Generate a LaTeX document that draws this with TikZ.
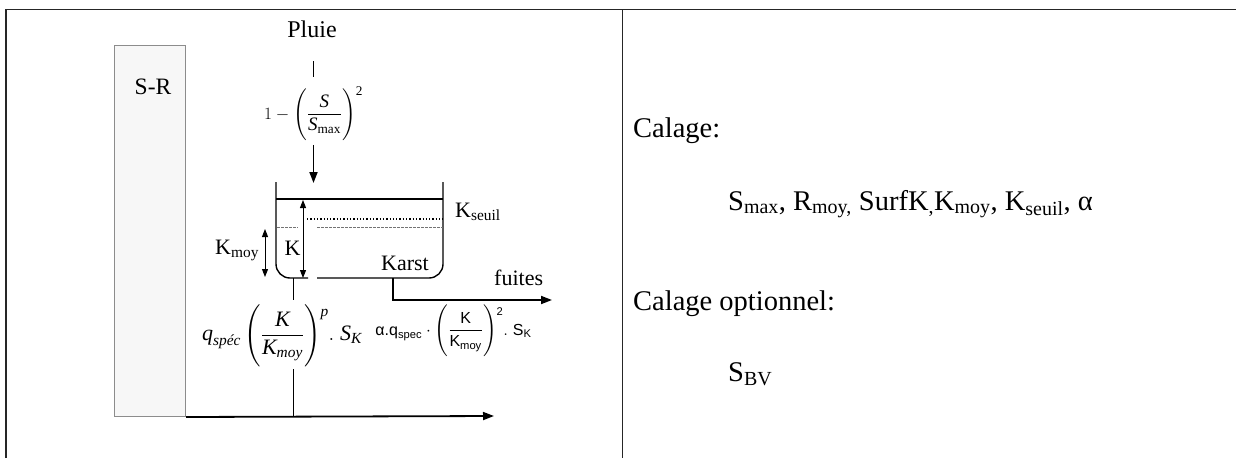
\documentclass[tikz,border=0pt]{standalone}
\usepackage{amsmath}
\usepackage{fontspec}
\setmainfont{Liberation Serif}
\setsansfont{Liberation Sans}
\usetikzlibrary{arrows.meta}

% italic / sans letters inside formulas
\newcommand{\itx}[1]{\text{\itshape #1}}
\newcommand{\sfx}[1]{\text{\sffamily #1}}
% invisible strut centred on the math axis, sets the size of \left( \right)
\newcommand{\parstrut}[1]{\vcenter{\hbox{\rule{0pt}{#1}}}}

\begin{document}
\begin{tikzpicture}[x=1pt,y=-1pt,
  grid/.style={line width=1.2pt, black!85},
  wall/.style={line width=1.4pt},
  flow/.style={line width=1.8pt},
  arr/.style={flow, -{Triangle[length=11pt,width=8pt]}},
  dbl/.style={line width=1pt, {Triangle[length=8pt,width=6pt]}-{Triangle[length=8pt,width=6pt]}},
  lab/.style={font=\fontsize{22}{26}\selectfont, inner sep=0pt},
  rtxt/.style={font=\fontsize{28.5}{34}\selectfont, inner sep=0pt, anchor=base west}]

\useasboundingbox (0,0) rectangle (1236,458);

% table frame
\draw[grid] (6,458) -- (6,9.5) -- (1236,9.5);
\draw[grid] (622.5,9.5) -- (622.5,458);

% surface reservoir S-R
\node[draw=black!45, fill=black!3, line width=1pt, minimum width=71pt,
      minimum height=371pt, inner sep=0pt, anchor=north west] (SR) at (114,45) {};
\node[lab, font=\fontsize{23.5}{27}\selectfont, anchor=base] (srlab) at (153,94) {S-R};

% rain input
\node[lab, font=\fontsize{24}{28}\selectfont, anchor=base] (pluie) at (312,37) {Pluie};
\node[inner sep=0pt, anchor=base, font=\fontsize{19}{23}\selectfont] (f1) at (313.5,119)
  {$\displaystyle 1-\left(\parstrut{56pt}\frac{\itx{S}}{\itx{S}_{\mathrm{max}}}\right)^{\text{\raisebox{-3pt}{2}}}$};
\coordinate (rin) at (313.5,183);
\draw[flow] ([xshift=1.5pt,yshift=-24pt]pluie.south) -- ([xshift=1.5pt,yshift=-40pt]pluie.south);
\draw[arr, shorten <=2pt] (f1.south) -- (rin);

% karst reservoir
\draw[wall, rounded corners=14pt] (276,182) |- (308,278);
\draw[wall, rounded corners=14pt] (317,278) -| (443,182);
\draw[wall] (276,199) -- (443,199);
\draw[line width=1.3pt, dotted] (307,219) -- (443,219);
\draw[line width=0.8pt, black!55, dash pattern=on 3pt off 1pt] (277,227) -- (298,227);
\draw[line width=0.8pt, black!55, dash pattern=on 3pt off 1pt] (317,227) -- (443,227);

\node[lab, anchor=base west] (kseuil) at (455,217) {K\textsubscript{seuil}};
\node[lab, anchor=base west] (karst) at (381,270) {Karst};
\node[lab, anchor=base] (klab) at (292.5,255) {K};
\node[lab, anchor=base west] (kmoy) at (215,254) {K\textsubscript{moy}};

\coordinate (ktop) at (303,200);
\coordinate (kbot) at (303,278);
\draw[dbl] (ktop) -- (kbot);
\coordinate (mtop) at (265,229);
\coordinate (mbot) at (265,277);
\draw[dbl] (mtop) -- (mbot);

% spring outflow
\coordinate (o1) at (293.5,278);
\coordinate (o2) at (293.5,300);
\coordinate (o3) at (293.5,369);
\coordinate (ob) at (293.5,416);
\draw[flow] (o1) -- (o2);
\draw[flow] (o3) -- (ob);
\node[inner sep=0pt, anchor=base, font=\fontsize{22}{26}\selectfont] (f2) at (282,340.5)
  {$\displaystyle \itx{q}_{\itx{spéc}}\left(\parstrut{64pt}\frac{\itx{K}}{\itx{K}_{\itx{moy}}}\right)^{\text{\itshape\raisebox{-8pt}{p}}}\!.\;\itx{S}_{\itx{K}}$};

% leakage
\coordinate (lk) at (393,278);
\coordinate (lkend) at (552,300);
\draw[arr] (lk) |- (lkend);
\node[lab, anchor=base west] (fuites) at (494,285) {fuites};
\node[inner sep=0pt, anchor=base, font=\fontsize{16}{19}\selectfont] (f3) at (453.5,335)
  {$\displaystyle \sfx{α.q}_{\sfx{spec}}\cdot\left(\parstrut{48pt}\frac{\sfx{K}}{\sfx{K}_{\sfx{moy}}}\right)^{\text{\sffamily\raisebox{-7pt}{2}}}\!.\;\sfx{S}_{\sfx{K}}$};

% total discharge
\coordinate (outlet) at (494,416);
\draw[arr] (SR.south east) -- (outlet);

% calibration parameters
\node[rtxt] (cal) at (633,137) {Calage:};
\node[rtxt] (calp) at (728,210) {S\textsubscript{max}, R\textsubscript{moy,} SurfK\textsubscript{,}K\textsubscript{moy}, K\textsubscript{seuil}, α};
\node[rtxt] (opt) at (633,310) {Calage optionnel:};
\node[rtxt] (optp) at (728,381) {S\textsubscript{BV}};

\end{tikzpicture}
\end{document}
